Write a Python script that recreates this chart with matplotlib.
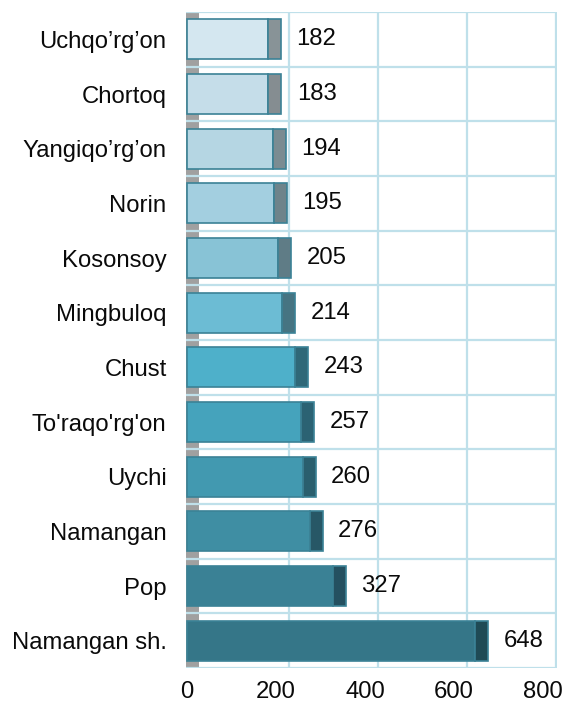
import matplotlib
matplotlib.use("Agg")
import matplotlib.pyplot as plt
from matplotlib.patches import Rectangle

plt.rcParams['font.family'] = ['Liberation Sans', 'DejaVu Sans']

categories = ["Uchqo’rg’on", "Chortoq", "Yangiqo’rg’on", "Norin", "Kosonsoy", "Mingbuloq",
              "Chust", "To'raqo'rg'on", "Uychi", "Namangan", "Pop", "Namangan sh."]
values = [182, 183, 194, 195, 205, 214, 243, 257, 260, 276, 327, 648]
xticks = [0, 200, 400, 600, 800]

face_colors = ["#d4e7f0", "#c5dde9", "#b5d6e3", "#a3cfe0", "#88c3d6", "#6cbcd4",
               "#4eb0ca", "#45a3bc", "#4299b0", "#3f8ea3", "#3a8195", "#357688"]
cap_colors = ["#889397", "#858d91", "#7b8c92", "#6e848b", "#5f7c86", "#467482",
              "#2f6878", "#2b6273", "#2a5f6e", "#275766", "#245060", "#1f4a55"]
edge_color = "#3b8296"
grid_color = "#bfe0ea"

W, H = 569, 709
fig = plt.figure(figsize=(W / 100, H / 100), dpi=100)
ax = fig.add_axes([186 / W, (H - 668) / H, (557 - 186) / W, (668 - 12) / H])

scale = 0.445  # px per unit
x0 = -1 / scale
x1 = (557 - 187) / scale
D = 13 / scale  # depth offset in data units
ax.set_xlim(x0, x1)
n = len(categories)
ax.set_ylim(n - 0.5, -0.5)

# left wall
ax.add_patch(Rectangle((x0, -0.5), (199 - 186) / scale, n, facecolor="#a0a0a0",
                       edgecolor="none", zorder=1))

# grid (back wall)
for v in xticks[1:]:
    ax.plot([v + D, v + D], [-0.5, n - 0.5], color=grid_color, lw=1.6, zorder=1.5,
            solid_capstyle='butt')
for k in range(n + 1):
    ax.plot([x0, x1], [k - 0.5, k - 0.5], color=grid_color, lw=1.6, zorder=1.5,
            solid_capstyle='butt')

y = list(range(n))
bh = 0.73
ax.barh(y, values, height=bh, color=face_colors, edgecolor=edge_color, lw=1.2, zorder=3)
ax.barh(y, [D] * n, left=values, height=bh, color=cap_colors, edgecolor=edge_color,
        lw=1.2, zorder=3)

fs = 17.2
for yi, v in zip(y, values):
    ax.annotate(str(v), (v + D, yi), xytext=(11, 0), textcoords='offset points',
                ha='left', va='center', fontsize=fs, color='#0a0a0a')

ax.set_xticks(xticks)
ax.set_xticklabels([str(t) for t in xticks], fontsize=fs)
ax.set_yticks(y)
ax.set_yticklabels(categories, fontsize=fs)
ax.tick_params(axis='both', length=0, colors='#0a0a0a')
ax.tick_params(axis='x', pad=9)
ax.tick_params(axis='y', pad=14)
for s in ax.spines.values():
    s.set_visible(False)

fig.savefig("out.png", dpi=100)
